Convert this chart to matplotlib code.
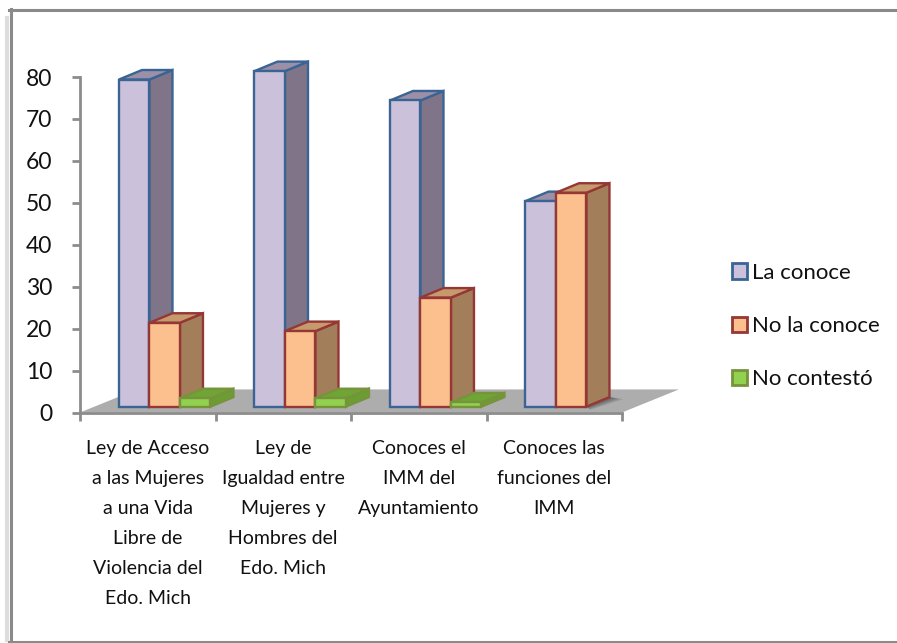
import matplotlib
matplotlib.use('Agg')
import matplotlib.pyplot as plt
from matplotlib.patches import Patch, Polygon
from matplotlib.lines import Line2D

# Data
categories = ['Ley de Acceso\na las Mujeres\na una Vida\nLibre de\nViolencia del\nEdo. Mich',
              'Ley de\nIgualdad entre\nMujeres y\nHombres del\nEdo. Mich',
              'Conoces el\nIMM del\nAyuntamiento',
              'Conoces las\nfunciones del\nIMM']
la_conoce = [78, 80, 73, 49]
no_la_conoce = [20, 18, 26, 51]
no_contesto = [2, 2, 1, 0]
y_ticks = [0, 10, 20, 30, 40, 50, 60, 70, 80]

# name, values, front, side, top, edge
series = [('La conoce', la_conoce, '#CCC1DA', '#807588', '#9C8FA8', '#3A6494'),
          ('No la conoce', no_la_conoce, '#FCC08E', '#A37E5A', '#C69A6C', '#953735'),
          ('No contestó', no_contesto, '#92D050', '#6A9E32', '#6FA535', '#77933C')]

W, H = 897, 643
plt.rcParams['font.family'] = ['Lato', 'DejaVu Sans']

fig = plt.figure(figsize=(W / 100, H / 100), dpi=100)
ax = fig.add_axes([80 / W, 1 - 412.5 / H, 542 / W, 335.5 / H])
ax.set_xlim(0, 4)
ax.set_ylim(0, 80)
ax.patch.set_visible(False)

# depth of floor and bars, in data units
floor_dx, floor_dy = 0.42, 5.5
bar_dx, bar_dy = 0.17, 2.27
base_dx, base_dy = 0.125, 1.4
bar_w = 0.225

floor = Polygon([(0, 0), (4, 0), (4 + floor_dx, floor_dy), (floor_dx, floor_dy)],
                closed=True, fc='#ADADAD', ec='none', clip_on=False, zorder=1)
ax.add_patch(floor)


def draw_bar(x0, h, front, side, top, edge, z):
    x1 = x0 + bar_w
    y0 = base_dy
    y1 = base_dy + h
    faces = [([(x1, y0), (x1 + bar_dx, y0 + bar_dy), (x1 + bar_dx, y1 + bar_dy), (x1, y1)], side),
             ([(x0, y1), (x1, y1), (x1 + bar_dx, y1 + bar_dy), (x0 + bar_dx, y1 + bar_dy)], top),
             ([(x0, y0), (x1, y0), (x1, y1), (x0, y1)], front)]
    for pts, col in faces:
        ax.add_patch(Polygon(pts, closed=True, fc=col, ec=edge, lw=1.7, joinstyle='miter',
                             clip_on=False, zorder=z))


for i in range(len(categories)):
    left = i + 0.5 + base_dx - 1.5 * bar_w
    # soft shadow on the floor along the side of the last bar
    if no_contesto[i] == 0:
        x1 = left + 2 * bar_w
        for k in range(1, 6):
            ax.add_patch(Polygon([(x1, base_dy),
                                  (x1 + bar_dx, base_dy + bar_dy),
                                  (x1 + bar_dx + 0.02 * k, base_dy + bar_dy - 0.1 * k),
                                  (x1 + 0.006 * k, base_dy - 0.15 * k)],
                                 closed=True, fc='black', alpha=0.1, ec='none', clip_on=False, zorder=1.5))
    for j, (name, vals, front, side, top, edge) in enumerate(series):
        if vals[i] > 0:
            draw_bar(left + j * bar_w, vals[i], front, side, top, edge, 2 + j + i * 0.1)

# Axes
for s in ['top', 'right']:
    ax.spines[s].set_visible(False)
for s in ['left', 'bottom']:
    ax.spines[s].set_color('#8C8C8C')
    ax.spines[s].set_linewidth(2)
    ax.spines[s].set_zorder(1.8)
ax.set_yticks(y_ticks)
ax.set_xticks([0, 1, 2, 3, 4])
ax.set_xticklabels([])
ax.set_xticks([0.5, 1.5, 2.5, 3.5], minor=True)
ax.set_xticklabels(categories, minor=True, linespacing=1.92, fontsize=14, color='#111111')
ax.tick_params(axis='x', which='major', length=6, width=2, color='#8C8C8C')
ax.tick_params(axis='x', which='minor', length=0, pad=20)
ax.tick_params(axis='y', length=6, width=2, color='#8C8C8C', labelsize=16.5, pad=14, labelcolor='#111111')

# Legend
handles = [Patch(fc=s[2], ec=s[5], lw=2, label=s[0]) for s in series]
fig.legend(handles=handles, loc='center left', bbox_to_anchor=(732 / W, 1 - 326 / H), frameon=False,
           fontsize=16, labelcolor='#111111', borderpad=0, borderaxespad=0, handlelength=0.68,
           handleheight=0.68, handletextpad=0.22, labelspacing=1.5)

# Frame around the chart
frame = '#8A8A8A'
fig.add_artist(Line2D([6.5 / W, 6.5 / W], [1 - 18 / H, 1 - 640 / H], color='#DDDDDD', lw=3))
fig.add_artist(Line2D([10.5 / W, 10.5 / W], [1 - 9 / H, 1 - 642 / H], color=frame, lw=2.2))
fig.add_artist(Line2D([9 / W, 1], [1 - 9.5 / H, 1 - 9.5 / H], color=frame, lw=2.2))
fig.add_artist(Line2D([9 / W, 1], [1 - 641.5 / H, 1 - 641.5 / H], color=frame, lw=2.2))

fig.savefig('out.png', dpi=100)
